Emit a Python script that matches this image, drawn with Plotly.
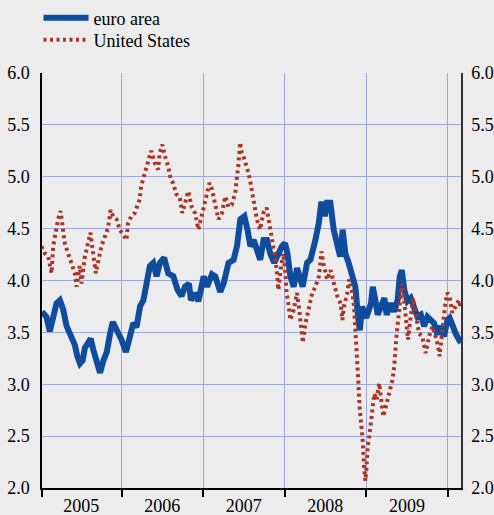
import plotly.graph_objects as go

euro_dates = [
    "2005-01-10", "2005-01-30", "2005-02-14", "2005-03-01", "2005-03-16", "2005-03-31",
    "2005-04-15", "2005-04-30", "2005-05-22", "2005-06-06", "2005-06-17", "2005-06-29",
    "2005-07-11", "2005-07-21", "2005-08-05", "2005-08-16", "2005-08-28", "2005-09-15",
    "2005-09-27", "2005-10-12", "2005-10-27", "2005-11-11", "2005-11-23", "2005-12-11",
    "2006-01-01", "2006-01-21", "2006-02-08", "2006-02-23", "2006-03-09", "2006-03-25",
    "2006-04-09", "2006-04-24", "2006-05-08", "2006-05-23", "2006-06-07", "2006-06-22",
    "2006-07-11", "2006-07-29", "2006-08-21", "2006-09-09", "2006-09-27", "2006-10-12",
    "2006-10-30", "2006-11-08", "2006-11-26", "2006-12-11", "2006-12-26",
    "2007-01-04", "2007-01-19", "2007-02-10", "2007-02-25", "2007-03-19", "2007-04-03",
    "2007-04-25", "2007-05-18", "2007-06-02", "2007-06-17", "2007-07-05", "2007-07-19",
    "2007-08-01", "2007-08-16", "2007-09-02", "2007-09-14", "2007-09-29", "2007-10-14",
    "2007-10-29", "2007-11-16", "2007-12-05", "2007-12-20",
    "2008-01-03", "2008-01-14", "2008-01-27", "2008-02-11", "2008-02-26", "2008-03-12",
    "2008-03-22", "2008-04-11", "2008-04-26", "2008-05-18", "2008-06-02", "2008-06-14",
    "2008-06-29", "2008-07-09", "2008-07-24", "2008-08-08", "2008-08-23", "2008-09-06",
    "2008-09-17", "2008-09-29", "2008-10-14", "2008-10-29", "2008-11-13", "2008-11-25",
    "2008-12-03", "2008-12-13",
    "2009-01-01", "2009-01-22", "2009-01-30", "2009-02-13", "2009-02-21", "2009-03-08",
    "2009-03-23", "2009-04-02", "2009-04-21", "2009-05-06", "2009-05-21", "2009-05-31",
    "2009-06-09", "2009-06-20", "2009-07-04", "2009-07-19", "2009-08-03", "2009-08-18",
    "2009-09-02", "2009-09-17", "2009-10-02", "2009-10-16", "2009-10-31", "2009-11-15",
    "2009-11-30", "2009-12-15", "2009-12-30",
    "2010-01-09", "2010-01-21", "2010-02-05", "2010-02-20", "2010-03-01",
]
euro_values = [
    3.70, 3.65, 3.51, 3.62, 3.78, 3.81,
    3.72, 3.56, 3.46, 3.38, 3.27, 3.20,
    3.23, 3.35, 3.40, 3.44, 3.33, 3.17,
    3.11, 3.23, 3.31, 3.49, 3.60, 3.52,
    3.43, 3.31, 3.46, 3.59, 3.55, 3.75,
    3.81, 4.00, 4.14, 4.17, 4.04, 4.17,
    4.22, 4.07, 4.04, 3.91, 3.85, 3.94,
    3.97, 3.81, 3.88, 3.80, 3.94,
    4.04, 3.94, 4.06, 4.04, 3.89, 3.97,
    4.17, 4.20, 4.33, 4.59, 4.62, 4.49,
    4.33, 4.39, 4.26, 4.20, 4.39, 4.39,
    4.26, 4.17, 4.26, 4.33,
    4.36, 4.26, 4.04, 3.94, 4.12, 4.01,
    3.94, 4.17, 4.20, 4.39, 4.55, 4.76,
    4.62, 4.75, 4.75, 4.49, 4.33, 4.23,
    4.49, 4.26, 4.17, 4.07, 3.94, 3.65,
    3.52, 3.75,
    3.64, 3.78, 3.94, 3.78, 3.67, 3.75,
    3.83, 3.67, 3.78, 3.70, 3.81, 4.04,
    4.10, 3.91, 3.80, 3.83, 3.75, 3.65,
    3.67, 3.56, 3.65, 3.62, 3.59, 3.48,
    3.56, 3.46, 3.62,
    3.64, 3.56, 3.49, 3.43, 3.40,
]

us_dates = [
    "2005-01-08", "2005-01-23", "2005-02-07", "2005-02-22", "2005-03-01", "2005-03-13",
    "2005-03-23", "2005-04-03", "2005-04-15", "2005-04-22", "2005-05-07", "2005-05-22",
    "2005-06-06", "2005-06-14", "2005-06-28", "2005-07-06", "2005-07-21", "2005-08-04",
    "2005-08-15", "2005-08-27", "2005-09-08", "2005-09-23", "2005-10-03", "2005-10-18",
    "2005-11-02", "2005-11-13", "2005-11-24", "2005-12-10", "2005-12-24",
    "2006-01-15", "2006-01-23", "2006-01-30", "2006-02-14", "2006-03-01", "2006-03-15",
    "2006-03-23", "2006-03-30", "2006-04-15", "2006-04-22", "2006-05-07", "2006-05-14",
    "2006-05-30", "2006-06-14", "2006-06-21", "2006-07-03", "2006-07-14", "2006-07-29",
    "2006-08-10", "2006-08-20", "2006-09-04", "2006-09-19", "2006-09-30", "2006-10-12",
    "2006-10-27", "2006-11-11", "2006-11-26", "2006-12-11", "2006-12-23",
    "2007-01-04", "2007-01-19", "2007-01-30", "2007-02-10", "2007-02-25", "2007-03-11",
    "2007-03-27", "2007-04-10", "2007-04-25", "2007-05-10", "2007-05-25", "2007-06-02",
    "2007-06-09", "2007-06-16", "2007-06-24", "2007-07-05", "2007-07-16", "2007-07-23",
    "2007-07-31", "2007-08-07", "2007-08-14", "2007-08-22", "2007-08-30", "2007-09-13",
    "2007-09-28", "2007-10-13", "2007-10-28", "2007-11-05", "2007-11-19", "2007-11-27",
    "2007-12-04", "2007-12-19", "2007-12-26",
    "2008-01-05", "2008-01-10", "2008-01-20", "2008-01-27", "2008-02-11", "2008-02-26",
    "2008-03-05", "2008-03-12", "2008-03-20", "2008-03-23", "2008-04-04", "2008-04-19",
    "2008-05-04", "2008-05-18", "2008-06-03", "2008-06-14", "2008-06-25", "2008-07-10",
    "2008-07-25", "2008-08-09", "2008-08-24", "2008-09-08", "2008-09-16", "2008-09-23",
    "2008-10-08", "2008-10-16", "2008-10-31", "2008-11-07", "2008-11-14", "2008-11-22",
    "2008-11-26", "2008-12-02", "2008-12-10", "2008-12-17", "2008-12-22", "2008-12-28",
    "2009-01-01", "2009-01-07", "2009-01-14", "2009-01-21", "2009-01-29", "2009-02-06",
    "2009-02-16", "2009-02-28", "2009-03-07", "2009-03-18", "2009-03-29", "2009-04-13",
    "2009-04-28", "2009-05-06", "2009-05-10", "2009-05-17", "2009-05-25", "2009-05-31",
    "2009-06-09", "2009-06-19", "2009-06-27", "2009-07-07", "2009-07-19", "2009-07-30",
    "2009-08-10", "2009-08-25", "2009-09-09", "2009-09-24", "2009-10-09", "2009-10-24",
    "2009-11-07", "2009-11-19", "2009-11-25", "2009-12-07", "2009-12-19", "2009-12-29",
    "2010-01-09", "2010-01-21", "2010-02-05", "2010-02-20", "2010-03-01",
]
us_values = [
    4.33, 4.26, 4.23, 4.07, 4.33, 4.49,
    4.59, 4.67, 4.51, 4.36, 4.26, 4.17,
    4.07, 3.94, 4.14, 3.97, 4.23, 4.36,
    4.46, 4.26, 4.07, 4.23, 4.33, 4.42,
    4.51, 4.68, 4.62, 4.59, 4.49,
    4.42, 4.39, 4.55, 4.62, 4.65, 4.75,
    4.78, 4.91, 5.04, 5.10, 5.20, 5.25,
    5.13, 5.07, 5.23, 5.31, 5.20, 5.10,
    4.97, 4.94, 4.83, 4.80, 4.65, 4.75,
    4.86, 4.71, 4.65, 4.49, 4.59,
    4.70, 4.81, 4.94, 4.88, 4.75, 4.59,
    4.65, 4.81, 4.71, 4.73, 4.84, 4.97,
    5.13, 5.33, 5.23, 5.17, 5.10, 5.04,
    4.96, 4.86, 4.78, 4.68, 4.59, 4.49,
    4.65, 4.70, 4.52, 4.39, 4.23, 4.10,
    3.91, 4.17, 4.26,
    4.07, 3.88, 3.75, 3.62, 3.72, 3.88,
    3.75, 3.62, 3.52, 3.40, 3.59, 3.72,
    3.88, 3.94, 4.04, 4.28, 4.14, 4.01,
    4.10, 3.97, 3.85, 3.78, 3.62, 3.75,
    3.88, 4.01, 3.88, 3.75, 3.52, 3.30,
    3.04, 2.78, 2.59, 2.43, 2.20, 2.07,
    2.17, 2.40, 2.49, 2.64, 2.78, 2.91,
    2.85, 3.01, 2.88, 2.69, 2.78, 2.91,
    3.04, 3.17, 3.33, 3.49, 3.65, 3.78,
    3.97, 3.81, 3.62, 3.43, 3.65, 3.83,
    3.69, 3.49, 3.46, 3.30, 3.46, 3.56,
    3.46, 3.36, 3.27, 3.56, 3.75, 3.88,
    3.85, 3.69, 3.75, 3.81, 3.72,
]

x_range = ["2005-01-10", "2010-03-01"]
year_boundaries = ["2006-01-01", "2007-01-01", "2008-01-01", "2009-01-01", "2010-01-01"]
year_label_dates = ["2005-07-05", "2006-07-02", "2007-07-02", "2008-07-01", "2009-07-02"]
year_labels = ["2005", "2006", "2007", "2008", "2009"]
y_ticks = [2.0, 2.5, 3.0, 3.5, 4.0, 4.5, 5.0, 5.5, 6.0]
y_range = [2.0, 6.0]

FONT = "Liberation Serif"
FS = 18
BG = "#ececec"
GRID = "#9ea9de"

fig = go.Figure()
fig.add_trace(go.Scatter(
    x=euro_dates, y=euro_values, mode="lines", name="euro area",
    line=dict(color="#0f4c9e", width=6), xaxis="x", yaxis="y", legend="legend",
))
fig.add_trace(go.Scatter(
    x=us_dates, y=us_values, mode="lines", name="United States",
    line=dict(color="#ab3428", width=4, dash="3px,3.5px"), xaxis="x2", yaxis="y2",
    legend="legend2",
))

legend_common = dict(
    xref="container", yref="container", xanchor="left", yanchor="middle",
    bgcolor="rgba(0,0,0,0)", font=dict(family=FONT, size=FS, color="black"),
    itemwidth=45,
)

fig.update_layout(
    width=494, height=515,
    margin=dict(l=42, r=33, t=73, b=27, autoexpand=False),
    paper_bgcolor=BG, plot_bgcolor=BG,
    font=dict(family=FONT, size=FS, color="black"),
    showlegend=True,
    legend=dict(x=0.078, y=1 - 18 / 515, **legend_common),
    legend2=dict(x=0.078, y=1 - 40 / 515, **legend_common),
    xaxis=dict(
        type="date", range=x_range, automargin=False,
        tickvals=[x_range[0]] + year_boundaries, ticktext=[""] * (len(year_boundaries) + 1),
        ticks="outside", ticklen=7, tickwidth=1.5, tickcolor="black",
        showgrid=True, gridcolor=GRID, gridwidth=1,
        showline=True, linecolor="black", linewidth=1.5,
        zeroline=False, anchor="y",
    ),
    xaxis2=dict(
        type="date", range=x_range, overlaying="x", anchor="y2", side="bottom",
        automargin=False,
        tickvals=year_label_dates, ticktext=year_labels,
        ticks="", showgrid=False, showline=False, zeroline=False,
        ticklabelstandoff=5,
        tickfont=dict(family=FONT, size=FS, color="black"),
    ),
    yaxis=dict(
        range=y_range, tickvals=y_ticks, tickformat=".1f", automargin=False,
        ticks="", showgrid=True, gridcolor=GRID, gridwidth=1,
        showline=True, linecolor="black", linewidth=1.5,
        zeroline=False, ticklabelstandoff=7,
        tickfont=dict(family=FONT, size=FS, color="black"),
    ),
    yaxis2=dict(
        range=y_range, tickvals=y_ticks, tickformat=".1f", automargin=False,
        overlaying="y", side="right", anchor="x2",
        ticks="", showgrid=False, showline=True, linecolor="#333333", linewidth=1.5,
        zeroline=False, ticklabelstandoff=5,
        tickfont=dict(family=FONT, size=FS, color="black"),
    ),
)

fig.write_html(
    "out.html",
    config={"displayModeBar": False},
    post_script="document.body.style.margin='0px';document.body.style.background='#ececec';",
)
